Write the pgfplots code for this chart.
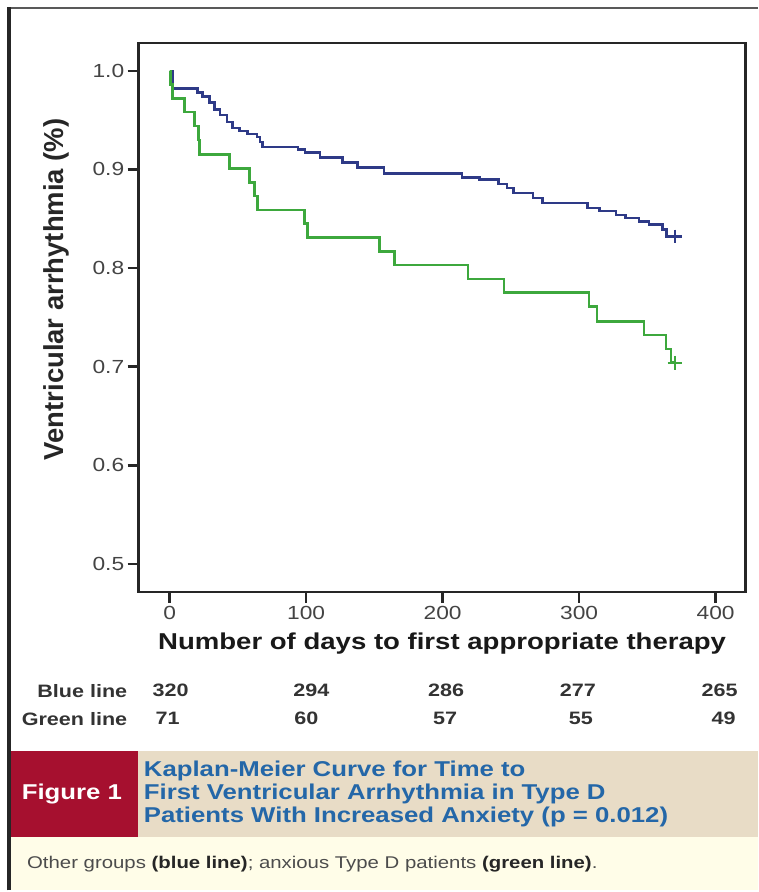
\documentclass[border=0pt]{standalone}
\usepackage{fontspec}
\setmainfont{Liberation Sans}[FakeStretch=1.2]
\newfontfamily\plainfont{Liberation Sans}
\usepackage{pgfplots}
\pgfplotsset{compat=1.18}
\definecolor{kmblue}{HTML}{2E3A87}
\definecolor{kmgreen}{HTML}{3DA83D}
\definecolor{figred}{HTML}{A6102F}
\definecolor{captan}{HTML}{E8DCC6}
\definecolor{capblue}{HTML}{2467A8}
\definecolor{cream}{HTML}{FFFDE8}
\definecolor{ticgray}{HTML}{444444}
\newcommand{\fs}[1]{\fontsize{#1pt}{#1pt}\selectfont}
\begin{document}
\begin{tikzpicture}[x=1pt,y=1pt]
\fill[white] (0,0) rectangle (759,892);
\fill[cream] (9,0) rectangle (759,53);
\fill[captan] (138,53) rectangle (759,140);
\fill[figred] (9,53) rectangle (138,140);
\draw[line width=1.6pt, black!65] (9,884) -- (759,884);
\draw[line width=3.5pt, black!85] (9,0) -- (9,885);
\begin{axis}[
  at={(139pt,299pt)}, anchor=south west,
  scale only axis, width=608pt, height=550pt,
  xmin=-22.67, xmax=421.9, ymin=0.4717, ymax=1.0283,
  xtick={0,100,200,300,400},
  ytick={0.5,0.6,0.7,0.8,0.9,1.0},
  tick pos=left, tick align=outside,
  major tick length=11pt,
  axis line style={line width=2.5pt, black!85},
  major tick style={line width=2.5pt, black!85},
  /pgf/number format/assume math mode=true,
  tick label style={font=\fs{19}, text=ticgray},
  yticklabel style={/pgf/number format/.cd, fixed, fixed zerofill, precision=1},
  xlabel={Number of days to first appropriate therapy},
  xlabel style={font=\fs{23}\bfseries, text=black!90, at={(rel axis cs:0.5,-0.0945)}, anchor=center},
  ylabel={Ventricular arrhythmia (\%)},
  ylabel style={font=\plainfont\fs{27.5}\bfseries, text=black!85, at={(rel axis cs:-0.135,0.551)}, anchor=center},
  clip=false,
]
\addplot[kmblue, line width=2.5pt, const plot] coordinates {
(0,1.0)(2.2,0.982)(20.5,0.978)(24,0.974)(29,0.968)(33,0.961)(37,0.955)(42,0.948)(46,0.942)(51,0.939)(57,0.936)(64,0.933)(66,0.928)(68,0.923)(94,0.920)(99,0.917)(110,0.912)(126.5,0.907)(137.5,0.902)(157,0.896)(214,0.892)(227,0.890)(241,0.885)(247,0.881)(252,0.876)(266,0.871)(273,0.866)(306,0.861)(315,0.858)(327,0.854)(334,0.851)(344,0.847)(351,0.844)(361,0.839)(364,0.832)(370,0.832)};
\addplot[kmgreen, line width=2.5pt, const plot] coordinates {
(0,1.0)(0.7,0.986)(2.2,0.972)(11,0.958)(18.3,0.944)(21.2,0.930)(21.9,0.915)(43.9,0.901)(58.5,0.887)(62.2,0.873)(64.4,0.859)(98.8,0.845)(101,0.831)(153.6,0.817)(164.6,0.803)(218.7,0.789)(245.1,0.775)(307.2,0.761)(313.1,0.746)(347.5,0.732)(363.6,0.718)(367.2,0.704)(370,0.704)};
\addplot[kmblue, only marks, mark=+, mark size=7pt, line width=2.2pt] coordinates {(370,0.832)};
\addplot[kmgreen, only marks, mark=+, mark size=7pt, line width=2.2pt] coordinates {(370,0.704)};
\end{axis}
\node[anchor=east, font=\fs{18}\bfseries, text=black!80] at (131,200) {Blue line};
\node[anchor=east, font=\fs{18}\bfseries, text=black!80] at (131,172) {Green line};
\foreach \x/\v in {171/320,312/294,447/286,579/277,721/265}
  \node[font=\fs{18}\bfseries, text=black!80] at (\x,200) {\v};
\foreach \x/\v in {168/71,307/60,446/57,582/55,725/49}
  \node[font=\fs{18}\bfseries, text=black!80] at (\x,172) {\v};
\node[font=\fs{21.5}\bfseries, text=white] at (72,96) {Figure 1};
\node[anchor=west, align=left, text=capblue, font=\fontsize{21.5pt}{23pt}\selectfont\bfseries, inner sep=0pt] at (144,96.5)
  {Kaplan-Meier Curve for Time to\\First Ventricular Arrhythmia in Type D\\Patients With Increased Anxiety (p = 0.012)};
\node[anchor=west, font=\fs{17}, text=black!70, inner sep=0pt] at (27,26)
  {Other groups {\bfseries\color{black!85}(blue line)}; anxious Type D patients {\bfseries\color{black!85}(green line)}.};
\end{tikzpicture}
\end{document}
